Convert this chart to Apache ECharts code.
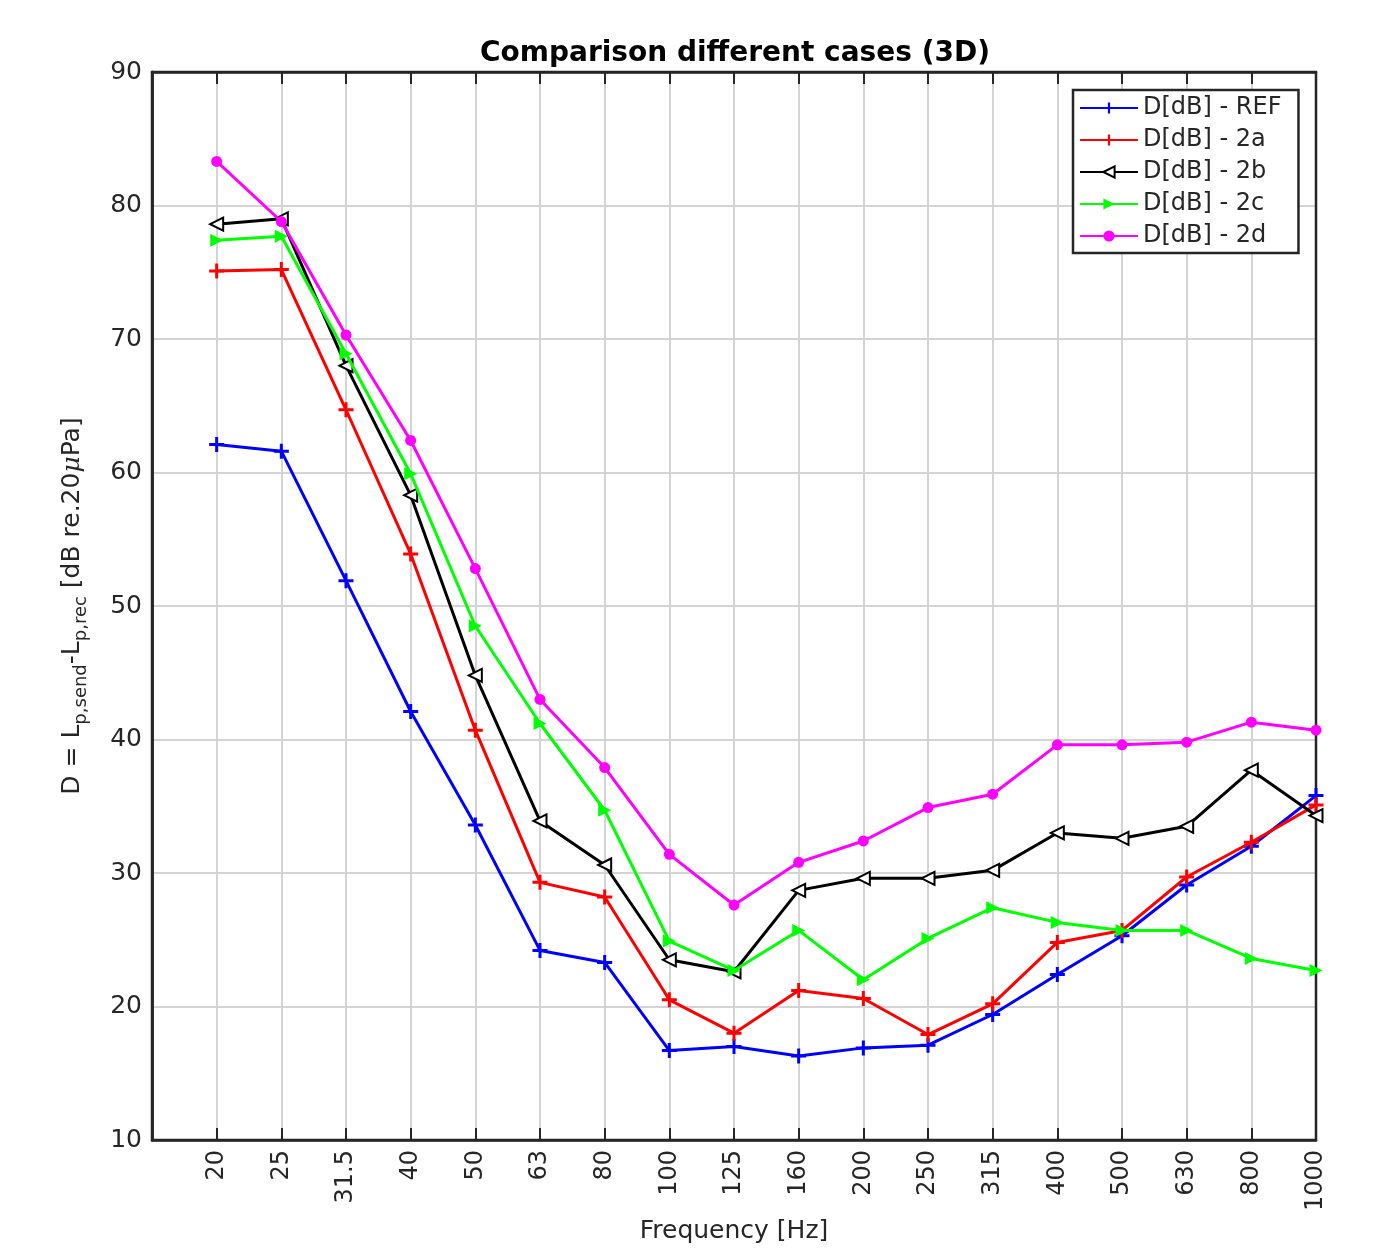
<!DOCTYPE html>
<html>
<head>
<meta charset="utf-8">
<script src="https://cdn.jsdelivr.net/npm/echarts@6/dist/echarts.min.js"></script>
<style>
html,body{margin:0;padding:0;background:#fff;}
#chart{width:1376px;height:1252px;}
</style>
</head>
<body>
<div id="chart"></div>
<script>
const categories = ['20','25','31.5','40','50','63','80','100','125','160','200','250','315','400','500','630','800','1000'];
const seriesNames = ['D[dB] - REF','D[dB] - 2a','D[dB] - 2b','D[dB] - 2c','D[dB] - 2d'];
const refValues = [62.1,61.6,51.9,42.1,33.6,24.2,23.3,16.7,17.0,16.3,16.9,17.1,19.4,22.4,25.3,29.1,32.0,35.8];
const v2a = [75.1,75.2,64.7,53.9,40.7,29.3,28.2,20.5,18.0,21.2,20.6,17.9,20.2,24.8,25.7,29.7,32.3,35.1];
const v2b = [78.6,79.0,68.0,58.3,44.8,33.9,30.6,23.5,22.6,28.7,29.6,29.6,30.2,33.0,32.6,33.5,37.7,34.3];
const v2c = [77.4,77.7,68.9,59.9,48.5,41.2,34.7,24.9,22.7,25.7,22.0,25.1,27.4,26.3,25.7,25.7,23.6,22.7];
const v2d = [83.3,78.8,70.3,62.4,52.8,43.0,37.9,31.4,27.6,30.8,32.4,34.9,35.9,39.6,39.6,39.8,41.3,40.7];
const yTicks = [10,20,30,40,50,60,70,80,90];

const allValues = [refValues, v2a, v2b, v2c, v2d];
const colors = ['#0000ff','#ff0000','#000000','#00ff00','#ff00ff'];
const plus = 'path://M4,0h2v4h4v2h-4v4h-2v-4h-4v-2h4z';
const symbols = [plus, plus, 'emptyTriangle', 'triangle', 'circle'];
const symbolSizes = [15, 15, 13, 13, 11];
const rotations = [0, 0, 90, -90, 0];

const FONT = '"DejaVu Sans", Verdana, sans-serif';
const TXT = '#262626';
const chart = echarts.init(document.getElementById('chart'));

const series = allValues.map((vals, k) => ({
  name: seriesNames[k],
  type: 'line',
  data: vals.map((v, i) => [i + 1, v]),
  symbol: symbols[k],
  symbolSize: symbolSizes[k],
  symbolRotate: rotations[k],
  showAllSymbol: true,
  lineStyle: { color: colors[k], width: 3 },
  itemStyle: { color: colors[k], borderColor: colors[k], borderWidth: k === 2 ? 2.5 : 0 },
  emphasis: { disabled: true },
  z: 10 + k
}));

const tickStyle = { show: true, inside: true, length: 12, lineStyle: { color: TXT, width: 2 } };
const lineStyleAx = { show: true, lineStyle: { color: TXT, width: 2.5 } };

const option = {
  animation: false,
  backgroundColor: '#ffffff',
  title: {
    text: 'Comparison different cases (3D)',
    left: 730, top: 35, textAlign: 'center',
    textStyle: { fontFamily: FONT, fontSize: 28, fontWeight: 'bold', color: '#000' }
  },
  legend: {
    orient: 'vertical',
    left: 1073, top: 90,
    padding: [6, 17, 5, 6],
    itemWidth: 58, itemHeight: 14, itemGap: 8,
    backgroundColor: '#ffffff',
    borderColor: TXT, borderWidth: 2.5,
    textStyle: { fontFamily: FONT, fontSize: 24, color: TXT },
    data: seriesNames
  },
  grid: { left: 152, right: 60, top: 72, bottom: 112, show: true, borderColor: TXT, borderWidth: 2.5, backgroundColor: 'transparent', z: 1 },
  xAxis: [{
    type: 'value', min: 0, max: 18, interval: 1,
    name: 'Frequency [Hz]', nameLocation: 'middle', nameGap: 76,
    nameTextStyle: { fontFamily: FONT, fontSize: 25, color: TXT },
    axisLine: lineStyleAx,
    axisTick: tickStyle,
    axisLabel: {
      rotate: 90, margin: 10, fontFamily: FONT, fontSize: 24, color: TXT,
      formatter: v => (v >= 1 && v <= 18) ? categories[v - 1] : ''
    },
    splitLine: { show: true, lineStyle: { color: '#d4d4d4', width: 2 } }
  }, {
    type: 'value', min: 0, max: 18, interval: 1, position: 'top',
    axisLine: lineStyleAx, axisTick: tickStyle,
    axisLabel: { show: false }, splitLine: { show: false }
  }],
  yAxis: [{
    type: 'value', min: 10, max: 90, interval: 10, position: 'left',
    name: '{n|D = L}{s|p,send}{n|-L}{s|p,rec}{n| [dB re.20}{mu|μ}{n|Pa]}',
    nameLocation: 'middle', nameGap: 62,
    nameTextStyle: {
      fontFamily: FONT, fontSize: 25, color: TXT,
      rich: {
        n: { fontFamily: FONT, fontSize: 25, color: TXT, lineHeight: 36, verticalAlign: 'middle' },
        s: { fontFamily: FONT, fontSize: 18, color: TXT, lineHeight: 36, verticalAlign: 'bottom' },
        mu: { fontFamily: '"DejaVu Serif", serif', fontStyle: 'italic', fontSize: 25, color: TXT, lineHeight: 36, verticalAlign: 'middle' }
      }
    },
    axisLine: lineStyleAx,
    axisTick: { show: false },
    axisLabel: { margin: 10, fontFamily: FONT, fontSize: 25, color: TXT,
      formatter: v => yTicks.includes(v) ? String(v) : '' },
    splitLine: { show: true, lineStyle: { color: '#d4d4d4', width: 2 } }
  }, {
    type: 'value', min: 10, max: 90, interval: 10, position: 'right',
    axisLine: lineStyleAx,
    axisTick: { show: false },
    axisLabel: { show: false }, splitLine: { show: false }
  }],
  series: series
};
chart.setOption(option);
</script>
</body>
</html>
